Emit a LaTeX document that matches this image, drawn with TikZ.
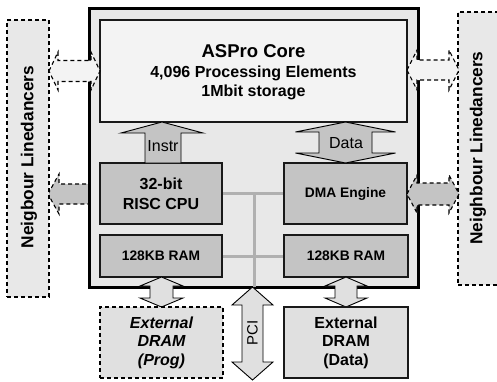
\documentclass[tikz,border=0pt]{standalone}
\usepackage{fontspec}
\setmainfont{Liberation Sans}
\definecolor{chipfill}{HTML}{E8E8E8}
\definecolor{corefill}{HTML}{F3F3F3}
\definecolor{unitfill}{HTML}{C4C4C4}
\definecolor{dramfill}{HTML}{E0E0E0}
\definecolor{nbfill}{HTML}{E8E8E8}
\definecolor{busgray}{HTML}{B0B0B0}
\newcommand{\blkH}[7][]{%
 \draw[#1] (#2,#4) -- ({#2+#7},{#4-#6}) -- ({#2+#7},{#4-#5}) -- ({#3-#7},{#4-#5}) -- ({#3-#7},{#4-#6}) -- (#3,#4) -- ({#3-#7},{#4+#6}) -- ({#3-#7},{#4+#5}) -- ({#2+#7},{#4+#5}) -- ({#2+#7},{#4+#6}) -- cycle;}
\newcommand{\blkV}[7][]{%
 \draw[#1] (#4,#2) -- ({#4+#6},{#2+#7}) -- ({#4+#5},{#2+#7}) -- ({#4+#5},{#3-#7}) -- ({#4+#6},{#3-#7}) -- (#4,#3) -- ({#4-#6},{#3-#7}) -- ({#4-#5},{#3-#7}) -- ({#4-#5},{#2+#7}) -- ({#4-#6},{#2+#7}) -- cycle;}
\tikzset{
  box/.style={draw=black!90, line width=1.3pt, inner sep=0pt, align=center},
  unitbox/.style={box, fill=unitfill},
  dashbox/.style={draw=black, line width=1.1pt, dashed, dash pattern=on 4pt off 3pt, inner sep=0pt, align=center},
  darrowlight/.style={draw=black, line width=1.1pt, dash pattern=on 4pt off 3pt, fill=corefill},
  darrowgray/.style={draw=black, line width=1.1pt, dash pattern=on 4pt off 3pt, fill=unitfill},
  sarrow/.style={draw=black, line width=0.9pt, fill=#1},
  bus/.style={draw=busgray, line width=3pt},
  bigtxt/.style={font=\bfseries\fontsize{18.5}{20}\selectfont},
  midtxt/.style={font=\bfseries\fontsize{16}{18}\selectfont},
  unittxt/.style={font=\bfseries\fontsize{16}{20}\selectfont},
  smalltxt/.style={font=\bfseries\fontsize{13.8}{16}\selectfont},
  lbltxt/.style={font=\fontsize{16}{18}\selectfont},
  nbtxt/.style={font=\bfseries\fontsize{17.3}{20}\selectfont, rotate=90},
}
\begin{document}
\begin{tikzpicture}[x=1pt,y=-1pt]
\clip (0,0) rectangle (497,381);
\fill[white] (0,0) rectangle (497,381);
% neighbour link under the chip (left, lower)
\blkH[darrowgray]{48}{100}{194}{10}{20}{11}
% neighbour boxes
\node[dashbox, fill=nbfill, minimum width=42pt, minimum height=277pt] (nbL) at (28,158.5) {};
\node[nbtxt] (nbLt) at (29,157) {Neigbour Linedancers};
\node[dashbox, fill=nbfill, minimum width=52pt, minimum height=273pt] (nbR) at (484,148.5) {};
\node[nbtxt] (nbRt) at (478,148) {Neighbour Linedancers};
% chip
\node[draw=black, line width=3pt, fill=chipfill, minimum width=329pt, minimum height=279pt] (chip) at (253.5,147.5) {};
% core
\node[box, fill=corefill, minimum width=307pt, minimum height=102pt] (core) at (253.5,71) {};
\node[bigtxt] (coret1) at (253.5,51) {ASPro Core};
\node[midtxt] (coret2) at (253.5,73) {4,096 Processing Elements};
\node[midtxt] (coret3) at (253.5,92) {1Mbit storage};
% bus
\draw[bus] (222,193) -- (284,193);
\draw[bus] (222,256) -- (284,256);
\draw[bus] (254,193) -- (254,287);
% units
\node[unitbox, unittxt, minimum width=122pt, minimum height=61pt] (cpu) at (161,193.5) {32-bit\\RISC CPU};
\node[unitbox, smalltxt, minimum width=122pt, minimum height=42pt] (ramL) at (161,256) {128KB RAM};
\node[unitbox, smalltxt, minimum width=123pt, minimum height=61pt] (dma) at (345.5,193.5) {DMA Engine};
\node[unitbox, smalltxt, minimum width=124pt, minimum height=42pt] (ramR) at (346,256) {128KB RAM};
% Instr arrow
\draw[sarrow=unitfill] (162,122) -- (203,133) -- (181,133) -- (181,163) -- (145,163) -- (145,133) -- (121,133) -- cycle;
\node[lbltxt] (instr) at (163,146) {Instr};
% Data arrow
\blkV[sarrow=unitfill]{122}{163}{345.5}{26.5}{50}{10}
\node[lbltxt] (data) at (346,143) {Data};
% neighbour links over the chip border
\blkH[darrowlight]{49}{100}{71}{10.5}{19}{9}
\blkH[darrowlight]{407}{459}{70}{10}{20}{10}
\blkH[darrowgray]{407}{459}{194}{11}{19}{10}
% PCI
\blkV[sarrow=dramfill]{287}{380}{252.5}{10.5}{20.5}{18}
\node[lbltxt, font=\fontsize{15}{18}\selectfont, rotate=90] (pci) at (252.5,333) {PCI};
% RAM to DRAM
\blkV[sarrow=dramfill]{277}{307}{161.5}{11.5}{21.5}{9}
\blkV[sarrow=dramfill]{277}{307}{346}{11}{21}{9}
% external DRAM
\node[dashbox, fill=dramfill, minimum width=123pt, minimum height=71pt, font=\bfseries\itshape\fontsize{16}{18.5}\selectfont] (dramP) at (161.5,342.5) {External\\DRAM\\(Prog)};
\node[box, fill=dramfill, minimum width=124pt, minimum height=71pt, font=\bfseries\fontsize{16}{18.5}\selectfont] (dramD) at (346,342.5) {External\\DRAM\\(Data)};
\end{tikzpicture}
\end{document}
